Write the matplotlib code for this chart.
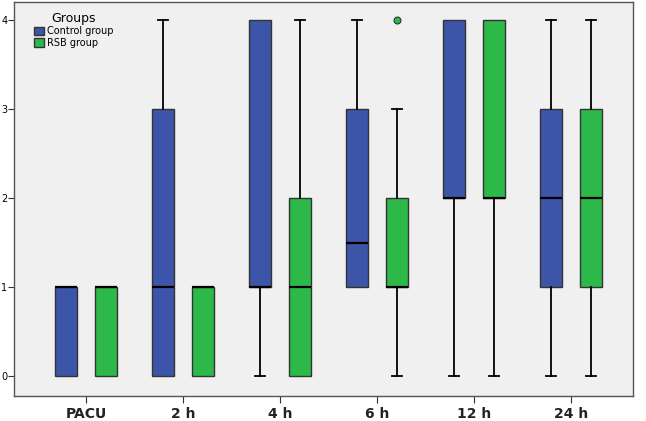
import numpy as np
import matplotlib.pyplot as plt
from matplotlib.patches import Patch

times = ["PACU", "2 h", "4 h", "6 h", "12 h", "24 h"]
groups = ["Control group", "RSB group"]

# per time point: (whislo, q1, med, q3, whishi, outliers)
control = [
    (0, 0, 1, 1, 1, []),
    (0, 0, 1, 3, 4, []),
    (0, 1, 1, 4, 4, []),
    (1, 1, 1.5, 3, 4, []),
    (0, 2, 2, 4, 4, []),
    (0, 1, 2, 3, 4, []),
]
rsb = [
    (0, 0, 1, 1, 1, []),
    (0, 0, 1, 1, 1, []),
    (0, 0, 1, 2, 4, []),
    (0, 1, 1, 2, 3, [4]),
    (0, 2, 2, 4, 4, []),
    (0, 1, 2, 3, 4, []),
]

colors = ["#3c55a9", "#2db84a"]


def to_stats(rows):
    out = []
    for lo, q1, med, q3, hi, fl in rows:
        out.append(dict(whislo=lo, q1=q1, med=med, q3=q3, whishi=hi, fliers=fl))
    return out


fig = plt.figure(figsize=(6.46, 4.21), dpi=100)
ax = fig.add_axes([0.022, 0.06, 0.958, 0.935])
ax.set_facecolor("#f0f0f0")
fig.patch.set_facecolor("white")

x = np.arange(len(times))
offset = 0.205
width = 0.225
for data, sign, col in zip([control, rsb], [-1, 1], colors):
    res = ax.bxp(
        to_stats(data),
        positions=x + sign * offset,
        widths=width,
        patch_artist=True,
        manage_ticks=False,
        boxprops=dict(facecolor=col, edgecolor="#333333", linewidth=1.0),
        medianprops=dict(color="black", linewidth=1.6),
        whiskerprops=dict(color="black", linewidth=1.3),
        capprops=dict(color="black", linewidth=1.3),
        capwidths=0.11,
        flierprops=dict(marker="o", markerfacecolor=col, markeredgecolor="#333333",
                        markersize=5, markeredgewidth=0.8),
    )
    # hide caps where the whisker has no length
    for i, (lo, q1, med, q3, hi, fl) in enumerate(data):
        if lo == q1:
            res["caps"][2 * i].set_visible(False)
        if hi == q3:
            res["caps"][2 * i + 1].set_visible(False)

ax.set_xlim(-0.74, 5.64)
ax.set_ylim(-0.22, 4.2)
ax.set_xticks(x)
ax.set_xticklabels(times, fontsize=10, fontweight="bold", color="#222222")
ax.set_yticks([0, 1, 2, 3, 4])
ax.tick_params(axis="y", labelsize=7, length=4, pad=1, color="#333333")
ax.tick_params(axis="x", length=5, pad=3, color="#333333")
for sp in ax.spines.values():
    sp.set_color("#555555")
    sp.set_linewidth(1.0)

handles = [Patch(facecolor=c, edgecolor="#333333", label=g) for c, g in zip(colors, groups)]
leg = ax.legend(handles=handles, title="Groups", loc="upper left",
                bbox_to_anchor=(0.02, 0.995), frameon=False, fontsize=7,
                title_fontsize=9, handlelength=1.0, handleheight=1.0,
                handletextpad=0.3, labelspacing=0.15, borderpad=0.3)

fig.savefig("out.png", dpi=100)
